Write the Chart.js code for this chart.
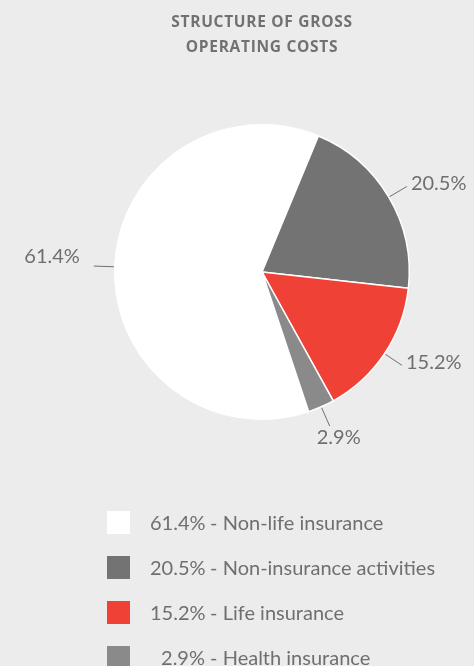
<!DOCTYPE html>
<html lang="en">
<head>
<meta charset="UTF-8">
<title>Structure of gross operating costs</title>
<script src="https://cdn.jsdelivr.net/npm/chart.js"></script>
<style>
  body { margin: 0; background: #ececec; }
  #wrap { position: relative; width: 474px; height: 666px; overflow: hidden; }
  #title {
    position: absolute; left: 62px; top: 9px; width: 400px; text-align: center;
    font: bold 15.5px "Open Sans", sans-serif; letter-spacing: 0.7px; line-height: 25px;
    color: #717171; text-transform: uppercase;
  }
  #legend { position: absolute; left: 107px; top: 511px; }
  .row { height: 45px; display: flex; align-items: flex-start; }
  .box { width: 23px; height: 23px; margin-right: 20px; }
  .txt { font: 20px Lato, sans-serif; color: #6f6f6f; line-height: 23px; white-space: nowrap; }
  .pct { display: inline-block; width: 55px; text-align: right; }
</style>
</head>
<body>
<div id="wrap">
  <div id="title">Structure of gross<br>operating costs</div>
  <canvas id="pie" width="474" height="666"></canvas>
  <div id="legend"></div>
</div>

<script>
var categorias = ['Non-life insurance', 'Non-insurance activities', 'Life insurance', 'Health insurance'];
var valores = [61.4, 20.5, 15.2, 2.9];
var colores = ['#ffffff', '#737373', '#ef4136', '#8a8a8a'];

function fmt(v) { return v.toFixed(1) + '%'; }

// etiquetas con línea guía
var etiquetas = {
    id: 'etiquetas',
    afterDatasetsDraw: function(chart) {
        var ctx = chart.ctx;
        var arcs = chart.getDatasetMeta(0).data;
        ctx.save();
        ctx.strokeStyle = '#6f6f6f';
        ctx.lineWidth = 1;
        ctx.fillStyle = '#6f6f6f';
        ctx.font = '20px Lato, sans-serif';
        arcs.forEach(function(arc, i) {
            var a = (arc.startAngle + arc.endAngle) / 2;
            var r = arc.outerRadius;
            var cx = arc.x, cy = arc.y;
            var c = Math.cos(a), s = Math.sin(a);
            var x1 = cx + c * (r + 1), y1 = cy + s * (r + 1);
            var x2 = cx + c * (r + 21), y2 = cy + s * (r + 21);
            ctx.beginPath();
            ctx.moveTo(x1, y1);
            ctx.lineTo(x2, y2);
            ctx.stroke();
            if (Math.abs(c) < 0.5) {
                ctx.textAlign = 'center';
                ctx.textBaseline = 'top';
                ctx.fillText(fmt(valores[i]), x2 + 9, y2 + 2);
            } else if (c > 0) {
                ctx.textAlign = 'left';
                ctx.textBaseline = 'middle';
                ctx.fillText(fmt(valores[i]), x2 + 4, y2 - 3);
            } else {
                ctx.textAlign = 'right';
                ctx.textBaseline = 'middle';
                ctx.fillText(fmt(valores[i]), x2 - 14, y2 - 10);
            }
        });
        ctx.restore();
    }
};

var ctx = document.getElementById('pie').getContext('2d');
var chart = new Chart(ctx, {
    type: 'pie',
    data: {
        labels: categorias,
        datasets: [{
            data: valores,
            backgroundColor: colores,
            borderColor: '#ffffff',
            borderWidth: 1.5
        }]
    },
    options: {
        responsive: false,
        animation: false,
        rotation: 161.5,
        layout: { padding: { left: 114, right: 64, top: 124, bottom: 246 } },
        plugins: {
            legend: { display: false },
            tooltip: { enabled: false }
        }
    },
    plugins: [etiquetas]
});

// leyenda
var leg = document.getElementById('legend');
categorias.forEach(function(cat, i) {
    var row = document.createElement('div');
    row.className = 'row';
    row.innerHTML = '<div class="box" style="background:' + colores[i] + '"></div>' +
        '<div class="txt"><span class="pct">' + fmt(valores[i]) + '</span> - ' + cat + '</div>';
    leg.appendChild(row);
});
</script>
</body>
</html>
